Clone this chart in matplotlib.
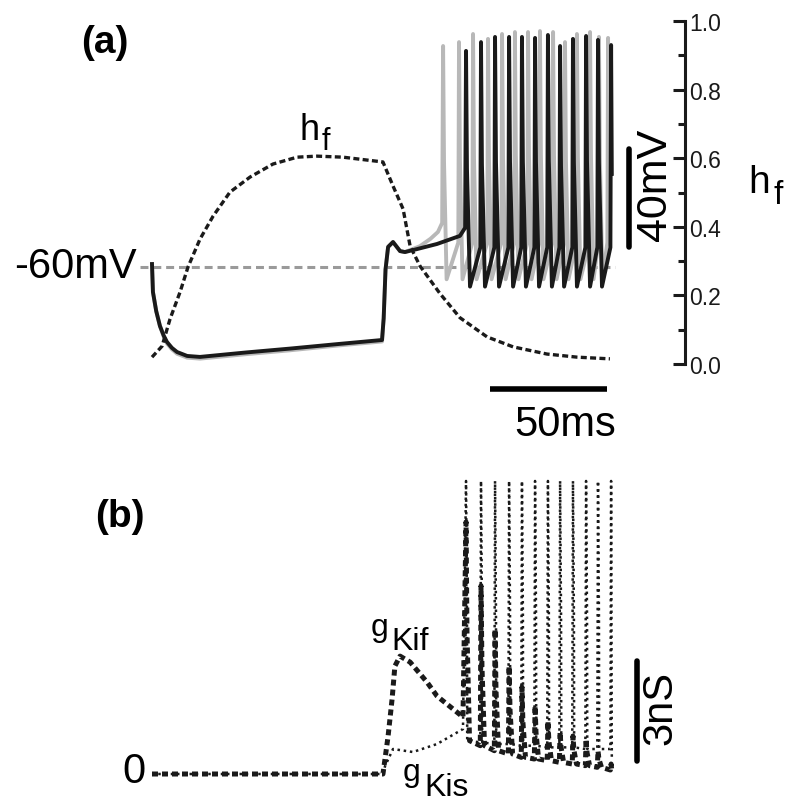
import matplotlib
matplotlib.use('Agg')
import matplotlib.pyplot as plt
from matplotlib.ticker import MultipleLocator

plt.rcParams['font.family'] = ['Liberation Sans', 'DejaVu Sans']

W, H = 800, 812

# ---- panel (a): membrane potential (mV) against time (ms) ----
# black trace before the first spike
v_pre_t = [0, 0.4, 1.8, 3.4, 5.0, 6.4, 8.5, 10.7, 15.0, 20.5, 40, 59, 80, 98.3, 99.0, 99.8,
           100.9, 103.0, 106.0, 108.1, 113.2, 121.8, 131.6, 133.8]
v_pre = [-58.8, -70.2, -78.0, -84.1, -88.0, -90.6, -93.0, -94.7, -96.3, -96.7, -94.9, -93.3, -91.4,
         -89.8, -81.0, -61.0, -51.8, -49.8, -53.5, -53.9, -52.7, -50.6, -47.3, -44.0]
spike_t = [134.2, 140.6, 146.6, 152.6, 158.1, 163.7, 169.2, 174.4, 179.9, 185.5, 190.6, 196.2]
spike_peak = [28.2, 31.8, 33.9, 33.9, 33.9, 33.5, 34.7, 30.2, 33.1, 34.3, 32.7, 30.6]
spike_trough = [-68, -68, -68, -68, -68, -68, -68, -68, -68, -68, -68, -68]

# grey (control) trace
g_pre_t = [0, 0.4, 1.8, 3.4, 5.0, 6.4, 8.5, 10.7, 15.0, 20.5, 40, 59, 80, 98.3, 99.0, 99.8,
           100.9, 103.0, 106.0, 108.1, 114.5, 119.0, 122.2, 124.0]
g_pre = [-58.8, -70.2, -78.0, -84.1, -88.4, -91.2, -93.6, -95.4, -97.0, -97.4, -95.6, -94.0, -92.0,
         -90.4, -81.0, -61.0, -51.8, -49.8, -53.5, -53.9, -51.5, -48.5, -45.7, -42.0]
gspike_t = [124.4, 131.2, 137.2, 143.6, 149.6, 155.1, 160.7, 165.8, 171.4, 176.5,
            181.6, 187.2, 191.0, 194.9]
gspike_peak = [30.2, 31.8, 35.1, 33.1, 35.1, 35.9, 35.9, 36.3, 35.9, 31.8, 35.1, 35.9, 33.9, 33.5]
gspike_trough = [-65, -65, -65, -65, -65, -65, -65, -65, -65, -65, -65, -65, -65, -65]

# inactivation variable hf
hf_t = [0, 4.3, 7.7, 12.0, 15.4, 20.5, 26.1, 33.3, 41.9, 51.7, 62.0, 70.5, 81.6,
        98.7, 103.0, 107.3, 110.3, 114.5, 123.1, 131.6, 143.2, 154.3, 168.8, 181.6, 195.7]
hf = [0.020, 0.052, 0.131, 0.21, 0.283, 0.364, 0.431, 0.501, 0.545, 0.583, 0.603,
      0.606, 0.603, 0.589, 0.519, 0.452, 0.344, 0.286, 0.205, 0.135, 0.079, 0.05,
      0.029, 0.02, 0.015]

# ---- panel (b): conductances (nS) ----
gkif_pre_t = [0, 98.7, 100.9, 102.6, 103.8, 106.0, 110.3, 117.5, 121.8, 132.9]
gkif_pre = [0, 0, 1.14, 2.25, 3.24, 3.54, 3.36, 2.76, 2.34, 1.71]
gkif_peak = [7.57, 5.65, 4.35, 3.24, 2.61, 2.04, 1.59, 1.26, 1.14, 1.05, 0.69, 0.30]
gkif_trough = [1.0, 0.85, 0.7, 0.6, 0.5, 0.45, 0.4, 0.35, 0.3, 0.25, 0.2, 0.12]

gkis_pre_t = [0, 98.7, 99.6, 103.0, 111.5, 121.8, 132.9]
gkis_pre = [0, 0, 0.24, 0.75, 0.66, 0.9, 1.35]
gkis_peak = [8.8, 8.8, 8.8, 8.8, 8.8, 8.8, 8.8, 8.8, 8.8, 8.8, 8.8, 8.8]
gkis_trough = [1.0, 0.95, 0.9, 0.9, 0.85, 0.85, 0.8, 0.8, 0.8, 0.75, 0.75, 0.75]


def train(t0, v0, times, peaks, troughs, top, fall, last_v):
    t, v = list(t0), list(v0)
    for i in range(len(times)):
        if i > 0:
            t.append(times[i] - 0.3)
            v.append(top[i] if isinstance(top, list) else top)
        if i == len(times) - 1:
            t += [times[i], times[i] + 0.3]
            v += [peaks[i], last_v]
        else:
            t += [times[i], times[i] + 0.4, times[i] + fall]
            v += [peaks[i], (peaks[i] + troughs[i]) / 2, troughs[i]]
    return t, v


def px(x, y):
    return x / W, 1 - y / H


def rect(left, top, right, bottom):
    return [left / W, 1 - bottom / H, (right - left) / W, (bottom - top) / H]


ms = 2.34      # px per ms
t_lim = ((140 - 152) / ms, (685 - 152) / ms)

fig = plt.figure(figsize=(8, 8.12), dpi=100)

ax = fig.add_axes(rect(140, 22, 685, 365))
ax.set_xlim(*t_lim)
ax.set_ylim(-60 - 97 / 2.45, -60 + 246 / 2.45)
ax.axis('off')

ax.plot([-5, 198], [-60, -60], color='#9a9a9a', lw=2.2, ls=(0, (2.6, 1.6)), clip_on=False)

gt, gv = train(g_pre_t, g_pre, gspike_t, gspike_peak, gspike_trough, -50, 1.5, -30)
ax.plot(gt, gv, color='#b8b8b8', lw=2.8, clip_on=False, solid_joinstyle='round')
bt, bv = train(v_pre_t, v_pre, spike_t, spike_peak, spike_trough, -52, 1.7, -22)
ax.plot(bt, bv, color='#1a1a1a', lw=2.8, clip_on=False, solid_joinstyle='round')

# scale bars
ax.plot([144.4, 194.4], [-109.8, -109.8], color='black', lw=4, clip_on=False, solid_capstyle='butt')
ax.plot([203.8, 203.8], [-51.8, -11.8], color='black', lw=4, clip_on=False, solid_capstyle='round')

axh = ax.twinx()
axh.set_xlim(*t_lim)
axh.set_ylim(0, 1)
axh.plot(hf_t, hf, color='#1a1a1a', lw=2.4, ls=(0, (1.8, 1.0)), clip_on=False)
for s in ['top', 'left', 'bottom']:
    axh.spines[s].set_visible(False)
axh.spines['right'].set_linewidth(2.2)
axh.spines['right'].set_color('#1a1a1a')
axh.yaxis.set_major_locator(MultipleLocator(0.2))
axh.yaxis.set_minor_locator(MultipleLocator(0.1))
axh.tick_params(axis='y', which='major', direction='in', length=9, width=2.2,
                labelsize=16.5, pad=3, colors='#1a1a1a')
axh.tick_params(axis='y', which='minor', direction='in', length=5, width=2.2, colors='#1a1a1a')
axh.set_yticks([0, 0.2, 0.4, 0.6, 0.8, 1.0])
axh.set_yticklabels(['0.0', '0.2', '0.4', '0.6', '0.8', '1.0'])
axh.set_xticks([])

axb = fig.add_axes(rect(140, 480, 685, 780))
axb.set_xlim(*t_lim)
axb.set_ylim(-5 / 33.3, 295 / 33.3)
axb.axis('off')

st, sv = train(gkis_pre_t, gkis_pre, spike_t, gkis_peak, gkis_trough, gkis_trough, 0.5, 0.5)
axb.plot(st, sv, color='#1a1a1a', lw=1.8, ls=(0, (1, 1.5)), clip_on=False)
ft, fv = train(gkif_pre_t, gkif_pre, spike_t, gkif_peak, gkif_trough, gkif_trough, 1.5, 0.1)
axb.plot(ft, fv, color='#1a1a1a', lw=3.6, ls=(0, (1.2, 0.8)), clip_on=False)

axb.plot([207.3, 207.3], [0.39, 3.39], color='black', lw=4, clip_on=False, solid_capstyle='round')

# texts
fig.text(*px(105, 43), '(a)', fontsize=28, fontweight='bold', ha='center', va='center')
fig.text(*px(120, 517), '(b)', fontsize=28, fontweight='bold', ha='center', va='center')
fig.text(*px(137, 267), '-60mV', fontsize=30, ha='right', va='center')
fig.text(*px(134, 772), '0', fontsize=30, ha='center', va='center')
fig.text(*px(565, 425), '50ms', fontsize=30, ha='center', va='center')
fig.text(*px(655, 185), '40mV', fontsize=31, ha='center', va='center', rotation=90)
fig.text(*px(660, 708), '3nS', fontsize=30, ha='center', va='center', rotation=90)

fig.text(*px(300, 140), 'h', fontsize=26, ha='left', va='baseline')
fig.text(*px(322, 150), 'f', fontsize=22, ha='left', va='baseline')
fig.text(*px(748, 193), 'h', fontsize=28, ha='left', va='baseline')
fig.text(*px(773, 204), 'f', fontsize=24, ha='left', va='baseline')
fig.text(*px(371, 636), 'g', fontsize=23, ha='left', va='baseline')
fig.text(*px(391, 650), 'Kif', fontsize=23, ha='left', va='baseline')
fig.text(*px(403, 781), 'g', fontsize=23, ha='left', va='baseline')
fig.text(*px(424, 796), 'Kis', fontsize=23, ha='left', va='baseline')

fig.savefig('out.png', dpi=100)
